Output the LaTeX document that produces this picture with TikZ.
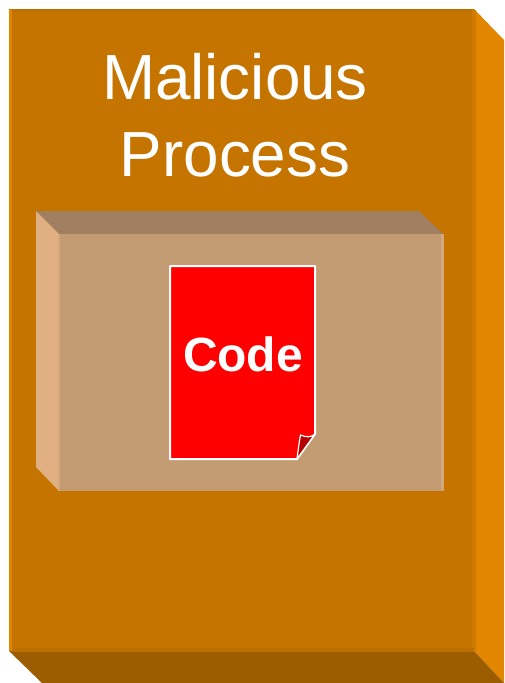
\documentclass[tikz,border=0pt]{standalone}
\usepackage{fontspec}
\setmainfont{Liberation Sans}
\definecolor{outerfront}{HTML}{C67400}
\definecolor{outerright}{HTML}{E28600}
\definecolor{outerbottom}{HTML}{9C5C00}
\definecolor{outeredge}{HTML}{BD6F00}
\definecolor{outerrim}{HTML}{CF7A00}
\definecolor{innerfront}{HTML}{C49C73}
\definecolor{innerleft}{HTML}{E0B083}
\definecolor{innertop}{HTML}{A08060}
\definecolor{inneredge}{HTML}{D4A87C}
\definecolor{docred}{HTML}{FF0000}
\definecolor{folddark}{HTML}{B40000}
\tikzset{
  face/.style={draw=none},
  titletext/.style={text=white,font=\fontsize{63.8}{64}\selectfont,inner sep=0pt,anchor=base},
  codetext/.style={text=white,font=\bfseries\fontsize{48}{48}\selectfont,inner sep=0pt,anchor=base},
}
\begin{document}
\begin{tikzpicture}[x=1pt,y=-1pt]
\useasboundingbox (0,0) rectangle (504,683);
\fill[white] (0,0) rectangle (504,683);
% outer box
\fill[outerright,face] (474,9) -- (504,40) -- (504,683) -- (474,651) -- cycle;
\fill[outerbottom,face] (9,651) -- (474,651) -- (504,683) -- (42,683) -- cycle;
\fill[outerfront,face] (9,9) rectangle (474,651);
\fill[outeredge,face] (9,9) rectangle (474,12);
\fill[outerright,face] (9,10) rectangle (12,651);
\fill[outerrim,face] (472,10) rectangle (476,651);
\fill[outeredge,face] (12,648) rectangle (474,652);
% inner box
\fill[innertop,face] (36,211) -- (419,211) -- (443,234) -- (59,234) -- cycle;
\fill[innerleft,face] (36,211) -- (59,234) -- (59,491) -- (36,467) -- cycle;
\fill[innerfront,face] (59,234) rectangle (443,491);
\fill[inneredge,face] (58,234) rectangle (60,491);
\fill[inneredge,face] (441,234) rectangle (444,491);
% document
\draw[white,line width=2pt,fill=docred,line join=round]
  (170,266) -- (315,266) -- (315,434) -- (297,459) -- (170,459) -- cycle;
\draw[draw=white,line width=1.2pt,fill=folddark,line join=round]
  (297,459) .. controls (298,451) and (299,443) .. (300.5,435)
  .. controls (306,437.5) and (311,437.5) .. (315,434) -- cycle;
% texts
\node[titletext] (title1) at (235,99) {Malicious};
\node[titletext] (title2) at (235,176) {Process};
\node[codetext] (code) at (243,371) {Code};
\end{tikzpicture}
\end{document}
